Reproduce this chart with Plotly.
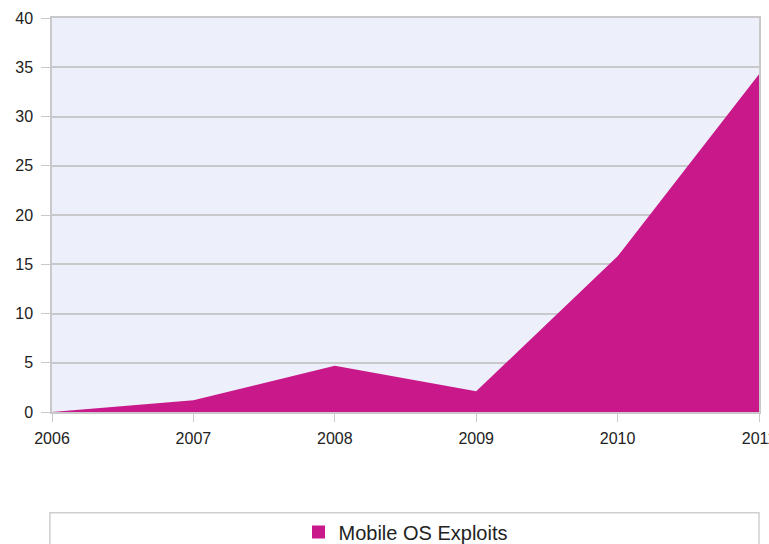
import plotly.graph_objects as go

years = [2006, 2007, 2008, 2009, 2010, 2011]
exploits = [0, 1.2, 4.7, 2.1, 15.8, 34.3]
series_name = "Mobile OS Exploits"

FILL = "#C8188A"
GRID = "#C9C9CC"
TEXT = "#222222"

fig = go.Figure()
fig.add_trace(go.Scatter(
    x=years, y=exploits,
    mode="lines",
    fill="tozeroy",
    fillcolor=FILL,
    line=dict(width=0, color=FILL),
    name=series_name,
    showlegend=False,
))
# legend swatch: square marker for the area series
fig.add_trace(go.Scatter(
    x=[None], y=[None], mode="markers",
    marker=dict(symbol="square", size=13, color=FILL),
    name=series_name, showlegend=True,
))

# frame around the legend row
fig.add_shape(type="rect", xref="paper", yref="paper",
              x0=-0.003, x1=1.0, y0=-0.256, y1=-0.45,
              line=dict(color="#CFCFCF", width=1.5), fillcolor="white", layer="below")

fig.update_layout(
    width=769, height=544,
    margin=dict(l=52, r=10, t=18, b=132),
    paper_bgcolor="white",
    plot_bgcolor="#EDF0FA",
    font=dict(family="Liberation Sans, Arial, sans-serif", size=16, color=TEXT),
    showlegend=True,
    legend=dict(orientation="h", x=0.5, xanchor="center",
                yref="container", y=(544 - 532) / 544, yanchor="middle",
                font=dict(size=20, color=TEXT), bgcolor="rgba(0,0,0,0)",
                itemwidth=30),
    xaxis=dict(range=[2006, 2011], tickmode="array", tickvals=years,
               ticktext=[str(y) for y in years],
               showgrid=False, ticks="outside", ticklen=8, tickcolor=GRID,
               ticklabeloverflow="allow", ticklabelstandoff=3,
               showline=True, linecolor=GRID, linewidth=1.5, mirror=True,
               zeroline=False, automargin=False),
    yaxis=dict(range=[0, 40], dtick=5, showgrid=True, gridcolor=GRID, gridwidth=1.5,
               ticks="outside", ticklen=9, tickcolor=GRID, ticklabelstandoff=5,
               showline=True, linecolor=GRID, linewidth=1.5, mirror=True,
               zeroline=False, automargin=False),
)

fig.write_html("out.html")
